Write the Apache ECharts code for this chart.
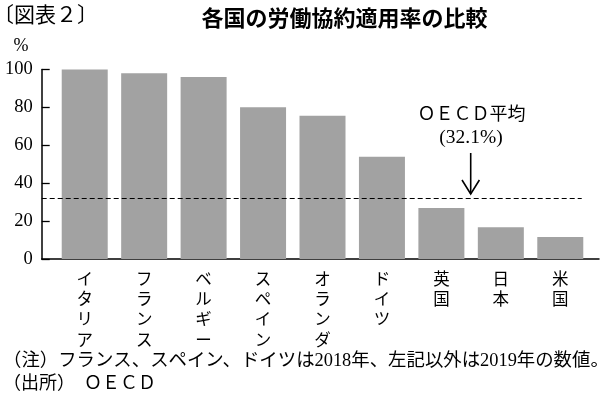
<!DOCTYPE html>
<html>
<head>
<meta charset="utf-8">
<script src="https://cdn.jsdelivr.net/npm/echarts@6/dist/echarts.min.js"></script>
<style>
html,body{margin:0;padding:0;background:#fff;}
#c{width:608px;height:394px;}
</style>
</head>
<body>
<div id="c"></div>
<script>
const categories = ['イタリア', 'フランス', 'ベルギー', 'スペイン', 'オランダ', 'ドイツ', '英国', '日本', '米国'];
const coverage = [100, 98, 96, 80.1, 75.6, 54, 26.9, 16.8, 11.6];
const oecdAverage = 32.1;
const yTicks = [0, 20, 40, 60, 80, 100];

const SERIF = '"Liberation Serif", "Noto Sans CJK JP", serif';
const CJK = '"Liberation Serif", "Noto Sans CJK JP", sans-serif';

const chart = echarts.init(document.getElementById('c'), null, {renderer: 'canvas'});
const gridTop = 69.5, gridBottom = 135;

chart.setOption({
  animation: false,
  backgroundColor: '#fff',
  grid: [
    {left: 55, right: 18, top: gridTop, bottom: gridBottom},
    {left: 41.7, right: 9, top: gridTop, bottom: gridBottom}
  ],
  xAxis: [
    {
      type: 'category', gridIndex: 0, data: categories,
      axisLine: {show: false}, axisTick: {show: false},
      axisLabel: {
        interval: 0, margin: 11,
        fontFamily: CJK, fontSize: 16.5, lineHeight: 20.4, color: '#000',
        formatter: v => v.split('').join('\n'),
        verticalAlign: 'top'
      }
    },
    {
      type: 'value', gridIndex: 1, min: 0, max: 1,
      axisLine: {show: true, lineStyle: {color: '#000', width: 1.5}},
      axisTick: {show: false}, axisLabel: {show: false}, splitLine: {show: false}
    }
  ],
  yAxis: [
    {
      type: 'value', gridIndex: 0, min: 0, max: 100, interval: 20,
      show: false, splitLine: {show: false}
    },
    {
      type: 'value', gridIndex: 1, min: yTicks[0], max: yTicks[yTicks.length - 1], interval: 20,
      axisLine: {show: true, lineStyle: {color: '#000', width: 1.5}},
      axisTick: {show: true, inside: true, length: 8, lineStyle: {color: '#000', width: 1.3}},
      axisLabel: {fontFamily: SERIF, fontSize: 18.5, color: '#000', margin: 9},
      splitLine: {show: false}
    }
  ],
  series: [
    {
      type: 'bar', xAxisIndex: 0, yAxisIndex: 0, data: coverage,
      barWidth: 46, itemStyle: {color: '#a2a2a2'}, silent: true
    },
    {
      type: 'line', xAxisIndex: 1, yAxisIndex: 1, data: [], silent: true,
      markLine: {
        silent: true, symbol: ['none', 'none'], label: {show: false},
        lineStyle: {color: '#000', width: 1, type: [5, 3]},
        data: [[{coord: [0, oecdAverage]}, {coord: [0.969, oecdAverage]}]]
      }
    }
  ],
  graphic: [
    {type: 'text', left: -7, top: 4, style: {text: '〔図表２〕', font: '21px "Noto Sans CJK JP"', fill: '#000'}},
    {type: 'text', x: 344.5, y: 17.5, style: {text: '各国の労働協約適用率の比較', font: 'bold 22px "Noto Sans CJK JP"', fill: '#000', textAlign: 'center', textVerticalAlign: 'middle'}},
    {type: 'text', x: 13.5, y: 46, style: {text: '%', font: '18px "Liberation Serif"', fill: '#000', textVerticalAlign: 'middle'}},
    {type: 'text', x: 471.5, y: 113, style: {text: 'ＯＥＣＤ平均', font: '18px "Noto Sans CJK JP"', fill: '#000', textAlign: 'center', textVerticalAlign: 'middle'}},
    {type: 'text', x: 471, y: 137.5, style: {text: '(32.1%)', font: '19.5px "Liberation Serif"', fill: '#000', textAlign: 'center', textVerticalAlign: 'middle'}},
    {type: 'line', shape: {x1: 470.7, y1: 153, x2: 470.7, y2: 194}, style: {stroke: '#000', lineWidth: 1.6}},
    {type: 'polyline', shape: {points: [[462, 180], [470.7, 194], [479.4, 180]]}, style: {stroke: '#000', lineWidth: 1.6, fill: null}},
    {type: 'text', x: 3, y: 361.5, style: {text: '（注）フランス、スペイン、ドイツは2018年、左記以外は2019年の数値。', font: '18.4px "Liberation Serif", "Noto Sans CJK JP"', fill: '#000', textVerticalAlign: 'middle'}},
    {type: 'text', x: 3, y: 382.5, style: {text: '（出所）　ＯＥＣＤ', font: '18px "Noto Sans CJK JP"', fill: '#000', textVerticalAlign: 'middle'}}
  ]
});
</script>
</body>
</html>
